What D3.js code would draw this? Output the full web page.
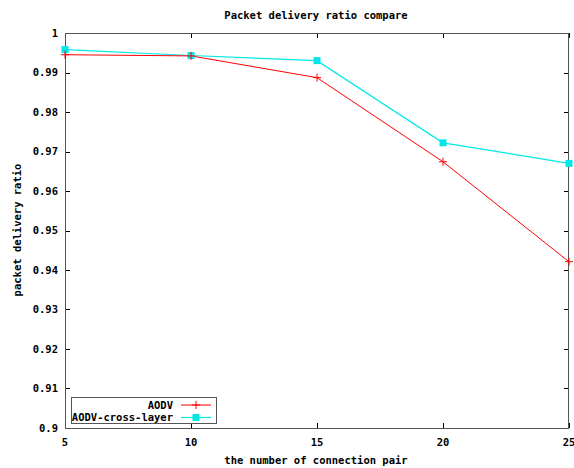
<!DOCTYPE html>
<html>
<head>
<meta charset="utf-8">
<script src="https://cdn.jsdelivr.net/npm/d3@7"></script>
<style>
  body { margin: 0; background: #fff; }
  text { font-family: "DejaVu Sans Mono", monospace; font-weight: bold; font-size: 10.5px; fill: #000; }
</style>
</head>
<body>
<div id="chart"></div>
<script>
const pairs = [5, 10, 15, 20, 25];
const aodv = [0.9945, 0.9942, 0.9887, 0.9674, 0.9421];
const aodvCross = [0.9958, 0.9943, 0.9930, 0.9722, 0.9670];
const yTicks = [0.9, 0.91, 0.92, 0.93, 0.94, 0.95, 0.96, 0.97, 0.98, 0.99, 1];
const redColor = "#ff0000";
const cyanColor = "#00e8e8";

const totalWidth = 574, totalHeight = 468;
const margins = { left: 65, right: 5, top: 33, bottom: 40 };
const width = totalWidth - margins.left - margins.right;
const height = totalHeight - margins.top - margins.bottom;

const svg = d3.select("#chart").append("svg")
    .attr("width", totalWidth)
    .attr("height", totalHeight);
const g = svg.append("g").attr("transform", `translate(${margins.left},${margins.top})`);

const x = d3.scaleLinear().domain([5, 25]).range([0, width]);
const y = d3.scaleLinear().domain([0.9, 1]).range([height, 0]);

// Ticks, inward on all four sides (gnuplot style)
const tickLen = 5;
yTicks.forEach(t => {
    g.append("line").attr("x1", 0).attr("x2", tickLen).attr("y1", Math.round(y(t)) + 0.5).attr("y2", Math.round(y(t)) + 0.5).attr("stroke", "#000");
    g.append("line").attr("x1", width - tickLen).attr("x2", width).attr("y1", Math.round(y(t)) + 0.5).attr("y2", Math.round(y(t)) + 0.5).attr("stroke", "#000");
    g.append("text").attr("x", -7).attr("y", y(t)).attr("dy", "0.35em")
        .style("text-anchor", "end").text(d3.format("")(+t.toFixed(2)));
});
pairs.forEach(p => {
    g.append("line").attr("x1", Math.round(x(p)) + 0.5).attr("x2", Math.round(x(p)) + 0.5).attr("y1", height).attr("y2", height - tickLen).attr("stroke", "#000");
    g.append("line").attr("x1", Math.round(x(p)) + 0.5).attr("x2", Math.round(x(p)) + 0.5).attr("y1", 0).attr("y2", tickLen).attr("stroke", "#000");
    g.append("text").attr("x", x(p)).attr("y", height + 14).attr("dy", "0.35em")
        .style("text-anchor", "middle").text(p);
});

// Border
g.append("rect").attr("x", 0.5).attr("y", 0.5).attr("width", width - 1).attr("height", height)
    .attr("fill", "none").attr("stroke", "#555");

// Lines
const line = d3.line().x((d, i) => x(pairs[i])).y(d => y(d));
g.append("path").attr("d", line(aodvCross)).attr("fill", "none").attr("stroke", cyanColor).attr("stroke-width", 1.2);
g.append("path").attr("d", line(aodv)).attr("fill", "none").attr("stroke", redColor).attr("stroke-width", 1);

// Markers
function plus(sel, cx, cy, color) {
    sel.append("path").attr("d", `M${cx - 4},${cy}H${cx + 4}M${cx},${cy - 4}V${cy + 4}`)
        .attr("stroke", color).attr("stroke-width", 1);
}
function square(sel, cx, cy, color) {
    sel.append("rect").attr("x", cx - 3.5).attr("y", cy - 3.5).attr("width", 7).attr("height", 7).attr("fill", color);
}
aodvCross.forEach((v, i) => square(g, x(pairs[i]), y(v), cyanColor));
aodv.forEach((v, i) => plus(g, x(pairs[i]), y(v), redColor));

// Legend
const legend = svg.append("g");
legend.append("rect").attr("x", 71.5).attr("y", 397.5).attr("width", 145).attr("height", 26)
    .attr("fill", "#fff").attr("stroke", "#555");
legend.append("text").attr("x", 173).attr("y", 405).attr("dy", "0.35em").style("text-anchor", "end").text("AODV");
legend.append("text").attr("x", 173).attr("y", 417.5).attr("dy", "0.35em").style("text-anchor", "end").text("AODV-cross-layer");
legend.append("line").attr("x1", 181).attr("x2", 211).attr("y1", 405).attr("y2", 405).attr("stroke", redColor);
plus(legend, 196, 405, redColor);
legend.append("line").attr("x1", 181).attr("x2", 211).attr("y1", 417.5).attr("y2", 417.5).attr("stroke", cyanColor).attr("stroke-width", 1.2);
square(legend, 196, 417.5, cyanColor);

// Titles
svg.append("text").attr("x", 316).attr("y", 15).attr("dy", "0.35em").style("text-anchor", "middle").text("Packet delivery ratio compare");
svg.append("text").attr("x", 316).attr("y", 460).attr("dy", "0.35em").style("text-anchor", "middle").text("the number of connection pair");
svg.append("text").attr("transform", "translate(17,230) rotate(-90)").attr("dy", "0.35em").style("text-anchor", "middle").text("packet delivery ratio");
</script>
</body>
</html>
